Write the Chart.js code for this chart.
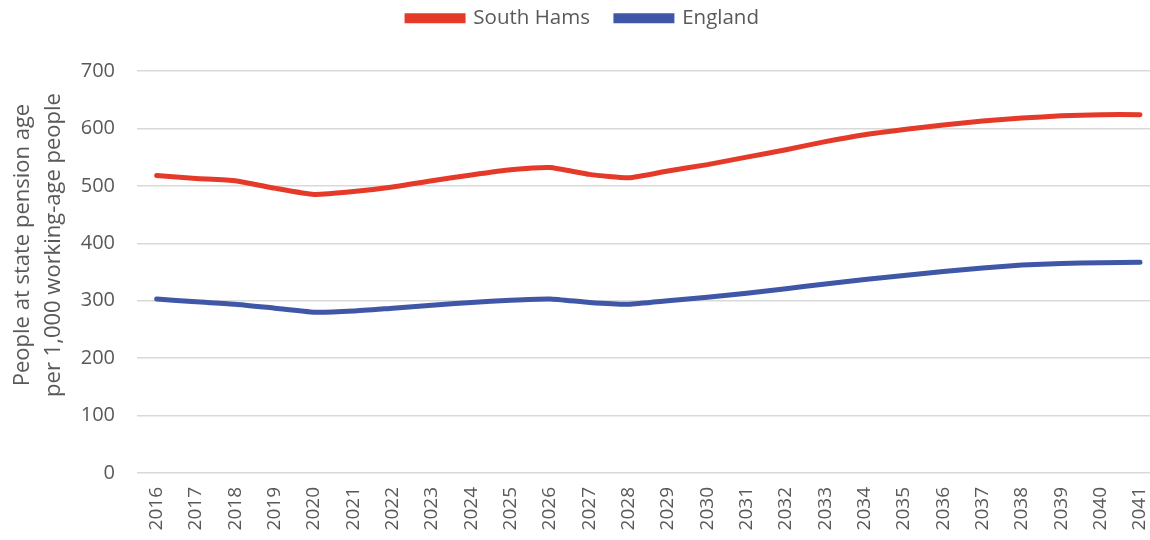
<!DOCTYPE html>
<html>
<head>
<meta charset="utf-8">
<script src="https://cdn.jsdelivr.net/npm/chart.js@4"></script>
<style>
  html, body { margin: 0; padding: 0; background: #fff; overflow: hidden; }
</style>
</head>
<body>
<canvas id="pensionChart" width="1177" height="540"></canvas>
<script>
var years = ['2016','2017','2018','2019','2020','2021','2022','2023','2024','2025','2026','2027','2028',
             '2029','2030','2031','2032','2033','2034','2035','2036','2037','2038','2039','2040','2041'];
var southHams = [518, 513, 509, 496, 485, 490, 498, 509, 519, 528, 532, 520, 514,
                 526, 537, 550, 563, 577, 589, 598, 606, 613, 618, 622, 624, 624];
var england = [303, 298, 294, 287, 280, 282, 287, 292, 297, 301, 303, 297, 294,
               300, 306, 313, 321, 329, 337, 344, 351, 357, 362, 365, 366, 367];
var yTicks = [0, 100, 200, 300, 400, 500, 600, 700];
var yTitle = ['People at state pension age', 'per 1,000 working-age people'];

var grey = '#595959';
var fontFamily = '"Open Sans", sans-serif';

var layoutPlugin = {
	id: 'layoutTweaks',
	afterInit: function(chart) {
		// taller legend box so the plot starts lower, legend itself drawn higher
		var fit = chart.legend.fit;
		chart.legend.fit = function() {
			fit.call(this);
			this.height = 71;
		};
		var draw = chart.legend.draw;
		chart.legend.draw = function() {
			this.ctx.save();
			this.ctx.translate(0, -18);
			draw.call(this);
			this.ctx.restore();
		};
	},
	// y axis title drawn by hand so it sits where the original has it
	afterDraw: function(chart) {
		var ctx = chart.ctx;
		ctx.save();
		ctx.fillStyle = grey;
		ctx.font = '22px ' + fontFamily;
		ctx.textAlign = 'center';
		ctx.textBaseline = 'middle';
		ctx.translate(23, 245);
		ctx.rotate(-Math.PI / 2);
		ctx.fillText(yTitle[0], 0, 0);
		ctx.fillText(yTitle[1], 0, 31);
		ctx.restore();
	}
};

const ctx = document.getElementById('pensionChart').getContext('2d');
const myChart = new Chart(ctx, {
	type: 'line',
	data: {
		labels: years,
		datasets: [{
			label: 'South Hams',
			data: southHams,
			borderColor: '#E53A29',
			backgroundColor: '#E53A29',
			borderWidth: 5,
			pointRadius: 0,
			tension: 0.15,
			borderCapStyle: 'round'
		}, {
			label: 'England',
			data: england,
			borderColor: '#3F57A6',
			backgroundColor: '#3F57A6',
			borderWidth: 5,
			pointRadius: 0,
			tension: 0.15,
			borderCapStyle: 'round'
		}]
	},
	options: {
		responsive: false,
		animation: false,
		layout: { padding: { top: 0, right: 11, bottom: 0, left: 0 } },
		plugins: {
			legend: {
				position: 'top',
				labels: {
					color: grey,
					font: { family: fontFamily, size: 20.5 },
					boxWidth: 56,
					boxHeight: 5,
					padding: 26
				}
			},
			tooltip: { enabled: false }
		},
		scales: {
			x: {
				offset: true,
				grid: { display: false, drawTicks: false },
				border: { display: false },
				ticks: {
					color: grey,
					font: { family: fontFamily, size: 19 },
					minRotation: 90,
					maxRotation: 90,
					padding: 14,
					autoSkip: false
				},
				afterFit: function(scale) { scale.height = 67; }
			},
			y: {
				min: 0,
				max: 700,
				afterBuildTicks: function(scale) {
					scale.ticks = yTicks.map(function(v) { return { value: v }; });
				},
				grid: { color: '#D9D9D9', lineWidth: 1.5, drawTicks: false },
				border: { display: false },
				ticks: {
					color: grey,
					font: { family: fontFamily, size: 20 },
					padding: 22
				},
				afterFit: function(scale) { scale.width = 137; }
			}
		}
	},
	plugins: [layoutPlugin]
});
</script>
</body>
</html>
